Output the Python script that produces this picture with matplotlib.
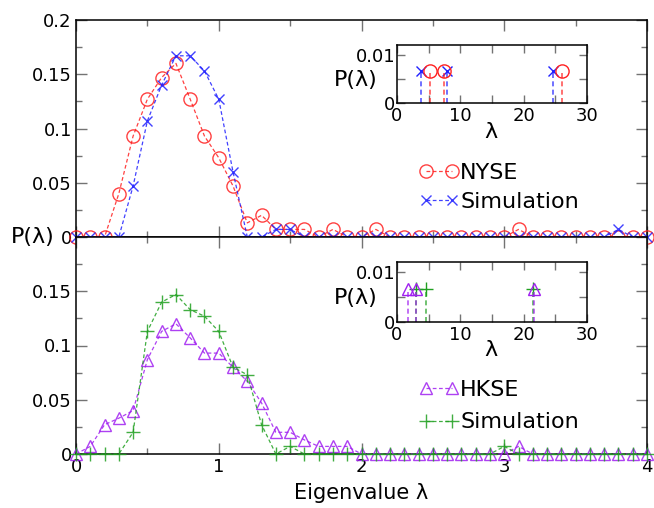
import numpy as np
import matplotlib
matplotlib.use("Agg")
import matplotlib.pyplot as plt
from matplotlib.ticker import MultipleLocator

# eigenvalue bins (0 .. 4 in steps of 0.1)
lam = np.round(np.arange(41) * 0.1, 1)

nyse = [0, 0, 0, 0.040, 0.093, 0.127, 0.147, 0.160, 0.127, 0.093,
        0.073, 0.047, 0.013, 0.020, 0.007, 0.007, 0.007, 0, 0.007, 0,
        0, 0.007, 0, 0, 0, 0, 0, 0, 0, 0,
        0, 0.007, 0, 0, 0, 0, 0, 0, 0, 0, 0]
sim_nyse = [0, 0, 0, 0, 0.047, 0.107, 0.140, 0.167, 0.167, 0.153,
            0.127, 0.060, 0, 0, 0.007, 0.007, 0, 0, 0, 0,
            0, 0, 0, 0, 0, 0, 0, 0, 0, 0,
            0, 0, 0, 0, 0, 0, 0, 0, 0.007, 0, 0]
hkse = [0, 0.007, 0.027, 0.033, 0.040, 0.087, 0.113, 0.120, 0.107, 0.093,
        0.093, 0.080, 0.067, 0.047, 0.020, 0.020, 0.013, 0.007, 0.007, 0.007,
        0, 0, 0, 0, 0, 0, 0, 0, 0, 0,
        0, 0.007, 0, 0, 0, 0, 0, 0, 0, 0, 0]
sim_hkse = [0, 0, 0, 0, 0.020, 0.113, 0.140, 0.147, 0.133, 0.127,
            0.113, 0.080, 0.073, 0.027, 0, 0.007, 0, 0, 0, 0,
            0, 0, 0, 0, 0, 0, 0, 0, 0, 0,
            0.007, 0, 0, 0, 0, 0, 0, 0, 0, 0, 0]

# large eigenvalues shown in the insets
nyse_big = [5.15, 7.45, 26.05]
sim_nyse_big = [3.8, 7.9, 24.6]
hkse_big = [1.8, 3.0, 21.6]
sim_hkse_big = [3.0, 4.6, 21.4]
big_height = 0.0067

RED = "#ff2020"
BLUE = "#2020ff"
PURPLE = "#a020f0"
GREEN = "#20a020"

plt.rcParams["font.family"] = ["DejaVu Sans"]

W, H = 654, 508
fig = plt.figure(figsize=(W / 100, H / 100), dpi=100)


def box(l, t, r, b):
    return [l / W, 1 - b / H, (r - l) / W, (b - t) / H]


def style_axes(ax, major_x, minor_x, major_y, minor_y, fs=13, pad=3):
    ax.xaxis.set_major_locator(MultipleLocator(major_x))
    ax.xaxis.set_minor_locator(MultipleLocator(minor_x))
    ax.yaxis.set_major_locator(MultipleLocator(major_y))
    ax.yaxis.set_minor_locator(MultipleLocator(minor_y))
    ax.tick_params(which="both", direction="in", top=True, right=True,
                   color="0.45", labelsize=fs, pad=pad)
    ax.tick_params(which="major", length=8, width=1)
    ax.tick_params(which="minor", length=4, width=1)
    for s in ax.spines.values():
        s.set_linewidth(1.1)


def series(ax, x, y, color, marker, ms, label):
    ax.plot(x, y, color=color, ls=(0, (3, 2)), lw=0.9, alpha=0.85,
            marker=marker, ms=ms, mfc="none", mec=color, mew=1.0,
            clip_on=False, label=label, zorder=3)


ax1 = fig.add_axes(box(76, 20, 647, 237))
ax2 = fig.add_axes(box(76, 237, 647, 454))

series(ax1, lam, nyse, RED, "o", 9.5, "NYSE")
series(ax1, lam, sim_nyse, BLUE, "x", 7, "Simulation")
series(ax2, lam, hkse, PURPLE, "^", 9, "HKSE")
series(ax2, lam, sim_hkse, GREEN, "+", 10, "Simulation")

for ax in (ax1, ax2):
    ax.set_xlim(0, 4)
    ax.set_ylim(0, 0.2)
    style_axes(ax, 1, 0.5, 0.05, 0.025)

ax1.set_xticklabels([])
ax1.set_yticks([0, 0.05, 0.1, 0.15, 0.2])
ax1.set_yticklabels(["0", "0.05", "0.1", "0.15", "0.2"])
ax2.set_yticks([0, 0.05, 0.1, 0.15, 0.2])
ax2.set_yticklabels(["0", "0.05", "0.1", "0.15", ""])
ax2.set_xticks([0, 1, 2, 3, 4])
ax2.set_xticklabels(["0", "1", "2", "3", "4"])

leg_kw = dict(frameon=False, fontsize=16, numpoints=2, handlelength=1.8,
              handletextpad=0.05, borderpad=0, loc="upper left")
ax1.legend(bbox_to_anchor=(408 / W, 1 - 152 / H),
           bbox_transform=fig.transFigure, labelspacing=0.4, **leg_kw)
ax2.legend(bbox_to_anchor=(408 / W, 1 - 369 / H),
           bbox_transform=fig.transFigure, labelspacing=0.55, **leg_kw)

fig.text(33 / W, 1 - 237 / H, "P(λ)", fontsize=16, ha="center", va="center")
fig.text(361 / W, 1 - 493 / H, "Eigenvalue λ", fontsize=15,
         ha="center", va="center")


def inset(rect, data_a, data_b, col_a, col_b, mk_a, mk_b, ms_a, ms_b, ylab_y, xlab_y):
    ax = fig.add_axes(rect)
    for xs, col, mk, ms in ((data_b, col_b, mk_b, ms_b), (data_a, col_a, mk_a, ms_a)):
        ax.vlines(xs, 0, big_height, colors=col, linestyles=(0, (3, 2)),
                  lw=1.2, alpha=0.75)
        ax.plot(xs, [big_height] * len(xs), ls="none", marker=mk, ms=ms,
                mfc="none", mec=col, mew=1.0)
    ax.set_xlim(0, 30)
    ax.set_ylim(0, 0.012)
    style_axes(ax, 10, 5, 0.01, 0.005, fs=13, pad=1)
    ax.tick_params(which="major", length=6)
    ax.tick_params(which="minor", length=6)
    ax.tick_params(axis="x", pad=3)
    ax.set_xticks([0, 10, 20, 30])
    ax.set_xticklabels(["0", "10", "20", "30"])
    ax.set_yticks([0, 0.01])
    ax.set_yticklabels(["0", "0.01"])
    fig.text(356 / W, 1 - ylab_y / H, "P(λ)", fontsize=16,
             ha="center", va="center")
    fig.text(491 / W, 1 - xlab_y / H, "λ", fontsize=16,
             ha="center", va="center")
    return ax


inset(box(397, 45, 587, 103), nyse_big, sim_nyse_big, RED, BLUE,
      "o", "x", 9.5, 7, 80, 132)
inset(box(397, 262, 587, 322), hkse_big, sim_hkse_big, PURPLE, GREEN,
      "^", "+", 9, 10, 298, 350)

fig.savefig("out.png", dpi=100)
